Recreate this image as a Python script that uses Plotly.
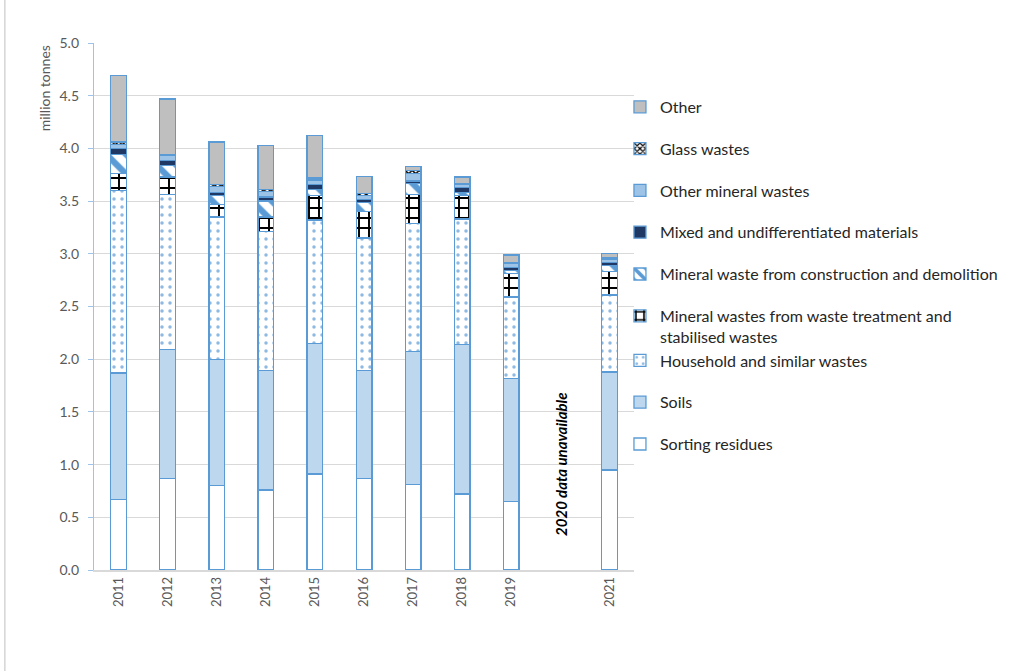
import plotly.graph_objects as go

years = ["2011", "2012", "2013", "2014", "2015", "2016", "2017", "2018", "2019", "2020", "2021"]
tick_labels = ["2011", "2012", "2013", "2014", "2015", "2016", "2017", "2018", "2019", "", "2021"]

sorting_residues = [0.67, 0.87, 0.80, 0.76, 0.91, 0.87, 0.81, 0.72, 0.65, None, 0.95]
soils = [1.20, 1.22, 1.20, 1.13, 1.24, 1.02, 1.26, 1.42, 1.17, None, 0.93]
household = [1.73, 1.47, 1.35, 1.32, 1.17, 1.26, 1.22, 1.19, 0.77, None, 0.73]
mineral_treatment = [0.16, 0.17, 0.12, 0.14, 0.23, 0.25, 0.27, 0.22, 0.22, None, 0.22]
mineral_cd = [0.18, 0.11, 0.08, 0.15, 0.06, 0.09, 0.11, 0.03, 0.03, None, 0.06]
mixed = [0.06, 0.045, 0.03, 0.04, 0.05, 0.025, 0.02, 0.05, 0.03, None, 0.03]
other_mineral = [0.04, 0.05, 0.06, 0.05, 0.04, 0.04, 0.07, 0.03, 0.04, None, 0.03]
glass = [0.02, 0.01, 0.02, 0.02, 0.02, 0.02, 0.03, 0.01, 0.01, None, 0.01]
other = [0.63, 0.525, 0.40, 0.42, 0.40, 0.16, 0.04, 0.06, 0.07, None, 0.04]

EDGE = "#5B9BD5"
series = [
    ("Sorting residues", sorting_residues, "white", None, "g1"),
    ("Soils", soils, "#BDD7EE", None, "g2"),
    ("Household and similar wastes", household, "white",
     dict(shape=".", fgcolor="#8DB9E3", fgopacity=1, size=8, solidity=0.15, fillmode="overlay"), "g3"),
    ("Mineral wastes from waste treatment and<br>stabilised wastes", mineral_treatment, "white",
     dict(shape="+", fgcolor="black", fgopacity=1, size=10, solidity=0.35, fillmode="overlay"), "g3"),
    ("Mineral waste from construction and demolition", mineral_cd, "white",
     dict(shape="\\", fgcolor=EDGE, fgopacity=1, size=14, solidity=0.45, fillmode="overlay"), "g5"),
    ("Mixed and undifferentiated materials", mixed, "#1F3864", None, "g6"),
    ("Other mineral wastes", other_mineral, "#9DC3E6", None, "g7"),
    ("Glass wastes", glass, "white",
     dict(shape="x", fgcolor="black", fgopacity=1, size=5, solidity=0.5, fillmode="overlay"), "g8"),
    ("Other", other, "#BFBFBF", None, "g9"),
]

fig = go.Figure()
n = len(series)
for i, (name, vals, color, pattern, grp) in enumerate(series):
    marker = dict(color=color, line=dict(color=EDGE, width=1.3))
    if pattern:
        marker["pattern"] = pattern
    fig.add_trace(go.Bar(x=years, y=vals, name=name, marker=marker,
                         width=0.32, legendgroup=grp, legendrank=n - i))

fig.add_annotation(x=9, y=1.0, xref="x", yref="y", text="<b><i>2020 data unavailable</i></b>",
                   textangle=-90, showarrow=False, font=dict(family="Lato", size=15, color="black"))

fig.add_annotation(xref="paper", yref="paper", x=-0.092, y=1.0, xanchor="center", yanchor="top",
                   text="million tonnes", textangle=-90, showarrow=False,
                   font=dict(family="Lato", size=14, color="#595959"))

fig.add_shape(type="line", xref="paper", yref="paper", x0=-0.165, x1=-0.165, y0=-0.2, y1=1.09,
              line=dict(color="#BFBFBF", width=1))

fig.update_layout(
    width=1020, height=671,
    barmode="stack",
    plot_bgcolor="white", paper_bgcolor="white",
    margin=dict(l=94, r=386, t=43, b=101),
    font=dict(family="Lato", color="#595959"),
    legend=dict(traceorder="grouped", tracegroupgap=18, valign="top",
                x=0.974, xanchor="left", y=0.911, yanchor="top",
                font=dict(family="Lato", size=16, color="#262626"),
                bgcolor="rgba(0,0,0,0)"),
    xaxis=dict(type="category", range=[-0.5, 10.5], tickvals=years, ticktext=tick_labels,
               tickangle=-90, showgrid=False, showline=True, linecolor="#D9D9D9", linewidth=1.5,
               ticks="", tickfont=dict(size=13, color="#595959")),
    yaxis=dict(range=[0, 5], dtick=0.5, tickformat=".1f", showgrid=True, gridcolor="#D9D9D9",
               gridwidth=1.3, showline=True, linecolor="#9DC3E6", linewidth=1.3,
               ticks="outside", ticklen=5, tickcolor="#9DC3E6", ticklabelstandoff=6,
               tickfont=dict(size=14, color="#595959"), zeroline=False),
)

fig.write_html("out.html")
